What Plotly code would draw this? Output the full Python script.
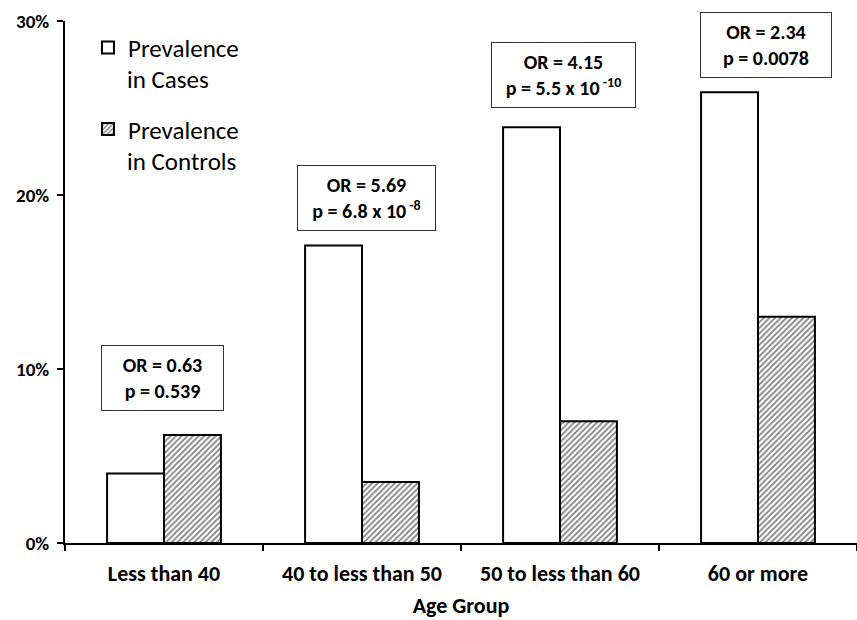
import plotly.graph_objects as go

# Prevalence (%) by age group
age_groups = ["Less than 40", "40 to less than 50", "50 to less than 60", "60 or more"]
cases = [4.0, 17.1, 23.9, 25.9]
controls = [6.2, 3.5, 7.0, 13.0]

# y-axis ticks
y_ticks = [0, 10, 20, 30]
y_tick_text = ["0%", "10%", "20%", "30%"]

# Odds ratio / p-value labels shown above each group
stat_labels = [
    "OR = 0.63<br>p = 0.539",
    "OR = 5.69<br>p = 6.8 x 10<sup> -8</sup>",
    "OR = 4.15<br>p = 5.5 x 10<sup> -10</sup>",
    "OR = 2.34<br>p = 0.0078",
]
stat_y = [9.5, 19.8, 26.9, 28.6]
stat_w = [115, 131, 137, 124]
stat_xshift = [-2, 4, 3, 8]

FONT = "Carlito, Lato, sans-serif"

fig = go.Figure()
fig.add_bar(
    x=age_groups, y=cases, name="Prevalence",
    marker=dict(color="white", line=dict(color="black", width=2)),
    legendgroup="a",
)
fig.add_bar(
    x=age_groups, y=controls, name="Prevalence",
    marker=dict(color="white", line=dict(color="black", width=2),
                pattern=dict(shape="/", fgcolor="black", bgcolor="white",
                             size=4, solidity=0.45)),
    legendgroup="b",
)

for lab, yv, w, xs, g in zip(stat_labels, stat_y, stat_w, stat_xshift, age_groups):
    fig.add_annotation(
        x=g, y=yv, xref="x", yref="y", text=lab, showarrow=False,
        xshift=xs, width=w, height=58, align="center", valign="middle",
        bordercolor="#333333", borderwidth=1, borderpad=3, bgcolor="white",
        font=dict(family=FONT, size=20, color="black", weight="bold"),
    )

# second lines of the legend entries
fig.add_annotation(x=0.0755, y=0.888, xref="paper", yref="paper", text="in Cases",
                   showarrow=False, xanchor="left", yanchor="middle",
                   font=dict(family=FONT, size=25, color="black"))
fig.add_annotation(x=0.0755, y=0.731, xref="paper", yref="paper", text="in Controls",
                   showarrow=False, xanchor="left", yanchor="middle",
                   font=dict(family=FONT, size=25, color="black"))

fig.update_layout(
    width=857, height=620,
    margin=dict(l=65, r=0, t=21, b=77),
    plot_bgcolor="white", paper_bgcolor="white",
    barmode="group", bargap=0.425, bargroupgap=0,
    font=dict(family=FONT, color="black"),
    legend=dict(x=0.029, y=0.993, xanchor="left", yanchor="top",
                font=dict(family=FONT, size=25, color="black"),
                tracegroupgap=46, bgcolor="rgba(0,0,0,0)"),
    showlegend=True,
)
fig.update_xaxes(
    showline=True, linecolor="black", linewidth=1.5,
    ticks="outside", ticklen=6, tickwidth=1.5, tickcolor="black",
    tickson="boundaries", ticklabelstandoff=10,
    tickfont=dict(family=FONT, size=22, weight="bold"),
    title=dict(text="Age Group", standoff=11,
               font=dict(family=FONT, size=22, weight="bold")),
    showgrid=False,
)
fig.update_yaxes(
    range=[0, 30], tickvals=y_ticks, ticktext=y_tick_text,
    showline=True, linecolor="black", linewidth=2,
    ticks="outside", ticklen=6, tickwidth=1.5, tickcolor="black",
    tickfont=dict(family=FONT, size=19, weight="bold"),
    ticklabelstandoff=4,
    showgrid=False, zeroline=False,
)

fig.write_html("out.html")
